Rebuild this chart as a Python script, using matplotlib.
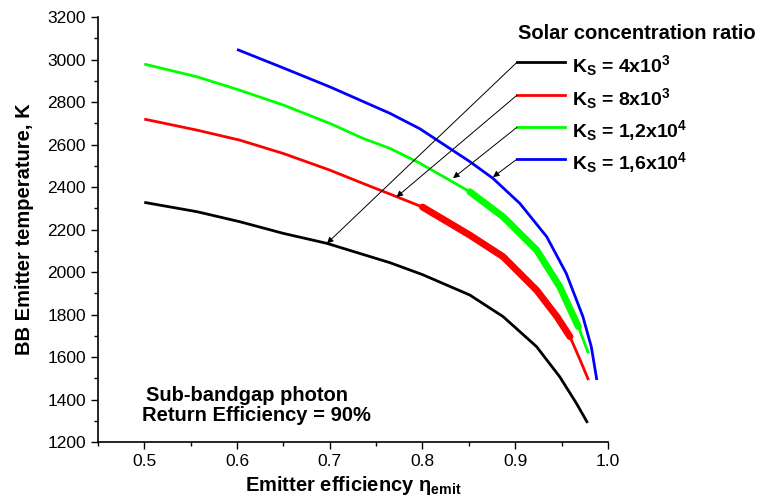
import matplotlib
matplotlib.use("Agg")
import matplotlib.pyplot as plt
import numpy as np

plt.rcParams["font.family"] = ["Liberation Sans", "DejaVu Sans"]
plt.rcParams["mathtext.default"] = "regular"

# Ks = 4x10^3
eta_black = [0.50, 0.557, 0.603, 0.65, 0.697, 0.765, 0.80, 0.851, 0.887,
             0.923, 0.948, 0.966, 0.978]
temp_black = [2328, 2284, 2237, 2182, 2135, 2044, 1988, 1892, 1790,
              1649, 1507, 1382, 1290]
# Ks = 8x10^3
eta_red = [0.50, 0.557, 0.603, 0.65, 0.70, 0.736, 0.765, 0.80, 0.851,
           0.887, 0.923, 0.945, 0.959, 0.970, 0.979]
temp_red = [2720, 2668, 2621, 2558, 2480, 2417, 2367, 2306, 2174,
            2072, 1915, 1790, 1696, 1586, 1492]
# Ks = 1,2x10^4
eta_green = [0.50, 0.557, 0.603, 0.65, 0.70, 0.736, 0.765, 0.797, 0.851,
             0.887, 0.923, 0.948, 0.968, 0.979]
temp_green = [2979, 2919, 2856, 2786, 2700, 2629, 2582, 2513, 2378,
              2260, 2104, 1931, 1743, 1617]
# Ks = 1,6x10^4
eta_blue = [0.60, 0.647, 0.70, 0.765, 0.797, 0.851, 0.876, 0.905, 0.934,
            0.955, 0.973, 0.982, 0.988]
temp_blue = [3048, 2966, 2872, 2747, 2675, 2520, 2441, 2323, 2166,
             1994, 1790, 1649, 1492]

# dicker Bereich (rot / grün)
red_thick = (0.80, 0.959)
green_thick = (0.851, 0.968)

labels = [r"K$_S$ = 4x10$^3$", r"K$_S$ = 8x10$^3$",
          r"K$_S$ = 1,2x10$^4$", r"K$_S$ = 1,6x10$^4$"]
colors = ["black", "#ff0000", "#00ff00", "#0000ff"]
label_y = [2988, 2833, 2682, 2532]
arrow_tips = [(0.697, 2135), (0.772, 2353), (0.833, 2442), (0.876, 2447)]

fig = plt.figure(figsize=(7.59, 5.04), dpi=100)
ax = fig.add_axes([0.129, 0.123, 0.672, 0.843])

series = [(eta_black, temp_black), (eta_red, temp_red),
          (eta_green, temp_green), (eta_blue, temp_blue)]
for (x, y), c in zip(series, colors):
    ax.plot(x, y, color=c, linewidth=2.0, solid_capstyle="butt",
            solid_joinstyle="round")

for (x, y), rng, c in [((eta_red, temp_red), red_thick, colors[1]),
                       ((eta_green, temp_green), green_thick, colors[2])]:
    x = np.array(x)
    y = np.array(y)
    m = (x >= rng[0]) & (x <= rng[1])
    ax.plot(x[m], y[m], color=c, linewidth=5.0, solid_capstyle="round",
            solid_joinstyle="round")

# Legende von Hand
ax.text(0.903, 3125, "Solar concentration ratio", fontsize=14.5,
        fontweight="bold", va="center", ha="left", clip_on=False)
for lab, c, ly, tip in zip(labels, colors, label_y, arrow_tips):
    ax.plot([0.902, 0.954], [ly, ly], color=c, linewidth=2.0, clip_on=False)
    ax.text(0.961, ly - 15, lab, fontsize=14, fontweight="bold",
            va="center", ha="left", clip_on=False)
    ax.annotate("", xy=tip, xytext=(0.902, ly),
                arrowprops=dict(arrowstyle="-|>", color="black", lw=0.7,
                                mutation_scale=9, shrinkA=0, shrinkB=0))

ax.text(0.502, 1420, "Sub-bandgap photon", fontsize=14.5, fontweight="bold",
        ha="left", va="center")
ax.text(0.498, 1325, "Return Efficiency = 90%", fontsize=14.5,
        fontweight="bold", ha="left", va="center")

ax.set_xlim(0.45, 1.0)
ax.set_ylim(1200, 3200)
ax.set_xticks([0.5, 0.6, 0.7, 0.8, 0.9, 1.0])
ax.set_xticks(np.arange(0.45, 1.0, 0.1), minor=True)
ax.set_yticks(np.arange(1200, 3201, 200))
ax.set_yticks(np.arange(1300, 3200, 200), minor=True)
ax.tick_params(which="major", direction="out", length=5, width=1,
               labelsize=12.5)
ax.tick_params(which="minor", direction="out", length=3, width=1)
ax.spines["top"].set_visible(False)
ax.spines["right"].set_visible(False)
ax.spines["left"].set_linewidth(1.2)
ax.spines["bottom"].set_linewidth(1.2)

ax.set_xlabel(r"Emitter efficiency $\eta_{emit}$", fontsize=14.5,
              fontweight="bold", labelpad=4)
ax.set_ylabel("BB Emitter temperature, K", fontsize=14.5, fontweight="bold",
              labelpad=10)

fig.savefig("out.png", dpi=100)
